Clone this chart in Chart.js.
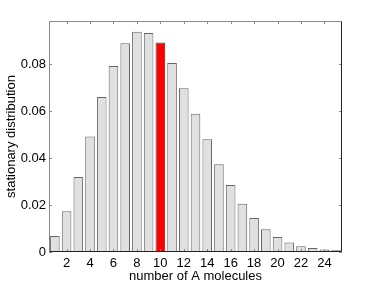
<!DOCTYPE html>
<html>
<head>
<meta charset="utf-8">
<script src="https://cdn.jsdelivr.net/npm/chart.js@4/dist/chart.umd.min.js"></script>
<style>
    html, body { margin: 0; padding: 0; background: #fff; }
    #wrap { width: 377px; height: 284px; position: relative; }
</style>
</head>
<body>
<div id="wrap"><canvas id="chart"></canvas></div>
<script>
const moleculeCounts = [1,2,3,4,5,6,7,8,9,10,11,12,13,14,15,16,17,18,19,20,21,22,23,24,25];
const stationaryProb = [0.0068, 0.0174, 0.0320, 0.0492, 0.0661, 0.0793, 0.0890, 0.0939, 0.0934, 0.0893,
    0.0806, 0.0698, 0.0590, 0.0481, 0.0374, 0.0286, 0.0206, 0.0145, 0.0097, 0.0064,
    0.0041, 0.0024, 0.0017, 0.0011, 0.0007];
const highlightCount = 10;
const yTicks = [0, 0.02, 0.04, 0.06, 0.08];
const yMax = 0.0985;

const FONT = "'Liberation Sans', Arial, sans-serif";

// inward ticks on all four sides + frame (matlab style)
const frameTicks = {
    id: 'frameTicks',
    afterDraw(chart) {
        const ctx = chart.ctx;
        const a = chart.chartArea;
        const xs = chart.scales.x, ys = chart.scales.y;
        const len = 3;
        ctx.save();
        ctx.lineWidth = 1;
        ctx.strokeStyle = '#888';
        ctx.beginPath();
        moleculeCounts.forEach((n, i) => {
            if (n % 2 !== 0) return;
            const px = Math.round(xs.getPixelForValue(i)) + 0.5;
            ctx.moveTo(px, a.bottom); ctx.lineTo(px, a.bottom - len);
            ctx.moveTo(px, a.top); ctx.lineTo(px, a.top + len);
        });
        yTicks.forEach(v => {
            const py = Math.round(ys.getPixelForValue(v)) + 0.5;
            ctx.moveTo(a.left, py); ctx.lineTo(a.left + len, py);
            ctx.moveTo(a.right, py); ctx.lineTo(a.right - len, py);
        });
        ctx.stroke();
        // frame: top/left grey, bottom/right dark
        const l = Math.round(a.left) + 0.5, r = Math.round(a.right) - 0.5;
        const t = Math.round(a.top) + 0.5, b = Math.round(a.bottom) - 0.5;
        ctx.strokeStyle = '#8a8a8a';
        ctx.beginPath();
        ctx.moveTo(l, b); ctx.lineTo(l, t); ctx.lineTo(r, t);
        ctx.stroke();
        ctx.strokeStyle = '#222';
        ctx.beginPath();
        ctx.moveTo(l, b); ctx.lineTo(r, b); ctx.lineTo(r, t);
        ctx.stroke();
        ctx.restore();
    }
};

new Chart(document.getElementById('chart'), {
    type: 'bar',
    data: {
        labels: moleculeCounts.map(String),
        datasets: [{
            data: stationaryProb,
            backgroundColor: moleculeCounts.map(n => n === highlightCount ? '#ff0000' : '#e0e0e0'),
            borderColor: moleculeCounts.map(n => n === highlightCount ? '#7a2a2a' : '#666666'),
            borderWidth: 1,
            borderSkipped: false,
            barPercentage: 0.82,
            categoryPercentage: 1.0
        }]
    },
    options: {
        responsive: true,
        maintainAspectRatio: false,
        animation: false,
        layout: { padding: { left: 0, right: 35, top: 21, bottom: 0 } },
        plugins: {
            legend: { display: false },
            tooltip: { enabled: false }
        },
        scales: {
            x: {
                type: 'category',
                offset: true,
                grid: { display: false, drawTicks: false },
                border: { display: false },
                ticks: {
                    color: '#000',
                    font: { family: FONT, size: 13 },
                    padding: 4,
                    maxRotation: 0,
                    autoSkip: false,
                    callback: function(val, idx) {
                        const n = moleculeCounts[idx];
                        return n % 2 === 0 ? String(n) : '';
                    }
                },
                title: {
                    display: true,
                    text: 'number of A molecules',
                    color: '#000',
                    font: { family: FONT, size: 13 },
                    padding: { top: 0, bottom: 0 }
                },
                afterFit: s => { s.height = 32; }
            },
            y: {
                min: 0,
                max: yMax,
                grid: { display: false, drawTicks: false },
                border: { display: false },
                afterBuildTicks: s => { s.ticks = yTicks.map(v => ({ value: v })); },
                ticks: {
                    color: '#000',
                    font: { family: FONT, size: 13 },
                    padding: 3,
                    callback: v => v === 0 ? '0' : v.toFixed(2)
                },
                title: {
                    display: true,
                    text: 'stationary distribution',
                    color: '#000',
                    font: { family: FONT, size: 13 },
                    padding: { top: 4, bottom: 0 }
                },
                afterFit: s => { s.width = 49; }
            }
        }
    },
    plugins: [frameTicks]
});
</script>
</body>
</html>
